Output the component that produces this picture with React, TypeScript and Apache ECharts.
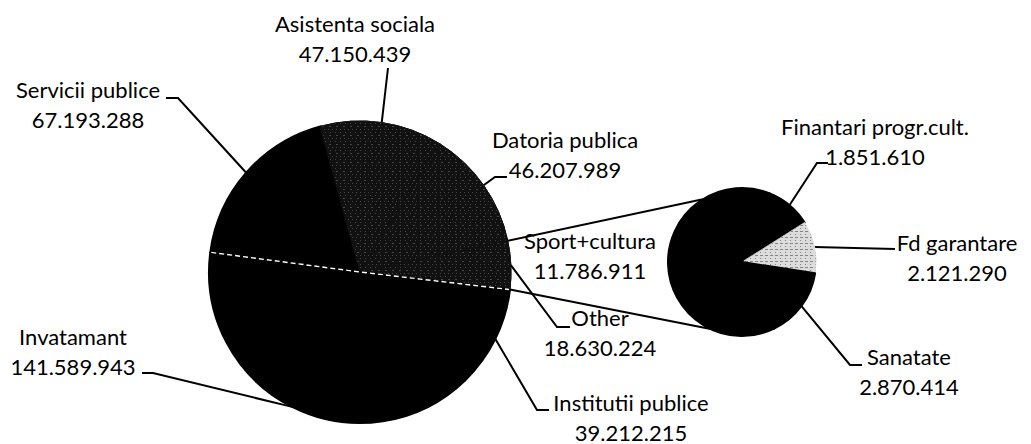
import React, { useEffect, useRef } from "react";
import * as echarts from "echarts";

// ---- data ----
const mainNames = [
  "Servicii publice",
  "Asistenta sociala",
  "Datoria publica",
  "Other",
  "Institutii publice",
  "Invatamant",
];
const mainValues = [67193288, 47150439, 46207989, 18630224, 39212215, 141589943];

const subNames = ["Finantari progr.cult.", "Fd garantare", "Sanatate", "Sport+cultura"];
const subValues = [1851610, 2121290, 2870414, 11786911];

// ---- layout (positions, not data) ----
const W = 1031;
const H = 444;
const MAIN_C = [360, 272];
const MAIN_R = 151;
const MAIN_START = 172.5;
const SUB_C = [742, 262];
const SUB_R = 74;
const SUB_START = 68;
const OTHER_INDEX = 3;
const SUB_TOP_DEG = 122;
const SUB_BOTTOM_DEG = 245;

type LP = { x: number; y: number; line: number[][] };
const mainLabelPos: Record<string, LP> = {
  "Servicii publice": { x: 88, y: 104, line: [[178, 98], [166, 98]] },
  "Asistenta sociala": { x: 355, y: 38, line: [[388, 68]] },
  "Datoria publica": { x: 565, y: 154, line: [[495, 177], [507, 177]] },
  Other: { x: 600, y: 332, line: [[557, 327], [570, 327]] },
  "Institutii publice": { x: 631, y: 417, line: [[537, 410], [549, 410]] },
  Invatamant: { x: 73, y: 351, line: [[153, 373], [142, 373]] },
};
const subLabelPos: Record<string, LP> = {
  "Finantari progr.cult.": { x: 875, y: 141, line: [[817, 163], [828, 163]] },
  "Fd garantare": { x: 957, y: 257, line: [[895, 249]] },
  Sanatate: { x: 909, y: 371, line: [[850, 365], [862, 365]] },
  "Sport+cultura": { x: 590, y: 255, line: [] },
};

const fmt = (v: number) => String(v).replace(/\B(?=(\d{3})+(?!\d))/g, ".");

const pt = (c: number[], r: number, deg: number) => {
  const a = (deg * Math.PI) / 180;
  return [c[0] + r * Math.cos(a), c[1] - r * Math.sin(a)];
};

const angles = (values: number[], start: number) => {
  const total = values.reduce((s, v) => s + v, 0);
  let cur = start;
  return values.map((v) => {
    const span = (v / total) * 360;
    const a = { start: cur, end: cur - span, mid: cur - span / 2 };
    cur -= span;
    return a;
  });
};

export default function App() {
  const ref = useRef<HTMLDivElement>(null);

  useEffect(() => {
    document.body.style.margin = "0";
    if (!ref.current) return;
    const chart = echarts.init(ref.current, undefined, { renderer: "svg" });

    const mainAng = angles(mainValues, MAIN_START);
    const subAng = angles(subValues, SUB_START);
    const other = mainAng[OTHER_INDEX];

    const textStyle = {
      fontFamily: "Lato, 'Open Sans', sans-serif",
      fontSize: 22,
      lineHeight: 30,
      color: "#000",
    };

    const speckle = {
      symbol: "rect",
      symbolSize: 1,
      color: "rgba(255,255,255,0.22)",
      dashArrayX: [
        [1, 4],
        [2, 5],
        [1, 3],
      ],
      dashArrayY: [1, 2],
      rotation: 0,
    };

    const solid = (c: string) => ({ color: c, borderColor: c, borderWidth: 2 });
    const textured = { color: "#111", borderColor: "#111", borderWidth: 1, decal: speckle };

    const mainColors: Record<string, any> = {
      "Servicii publice": solid("#000"),
      "Asistenta sociala": textured,
      "Datoria publica": textured,
      Other: textured,
      "Institutii publice": solid("#000"),
      Invatamant: solid("#000"),
    };
    const subColors: Record<string, any> = {
      "Finantari progr.cult.": solid("#000"),
      "Fd garantare": {
        color: "#dcdcdc",
        borderColor: "#dcdcdc",
        borderWidth: 0.5,
        decal: {
          symbol: "rect",
          symbolSize: 1,
          color: "rgba(0,0,0,0.4)",
          dashArrayX: [
            [3, 2],
            [1, 4],
          ],
          dashArrayY: [1, 2],
          rotation: 0,
        },
      },
      Sanatate: solid("#000"),
      "Sport+cultura": solid("#000"),
    };

    const layoutFor =
      (names: string[], pos: Record<string, LP>, ang: any[], c: number[], r: number) =>
      (params: any) => {
        const i = params.dataIndex;
        const p = pos[names[i]];
        const edge = pt(c, r, ang[i].mid);
        const res: any = { x: p.x, y: p.y, align: "center", verticalAlign: "middle" };
        if (p.line.length) res.labelLinePoints = [edge, ...p.line];
        return res;
      };

    const labelLine = { show: true, length: 10, length2: 10, lineStyle: { color: "#000", width: 2 } };

    const option: any = {
      animation: false,
      backgroundColor: "#fff",
      series: [
        {
          type: "pie",
          center: MAIN_C,
          radius: MAIN_R,
          startAngle: MAIN_START,
          clockwise: true,
          avoidLabelOverlap: false,
          silent: true,
          data: mainNames.map((n, i) => ({
            name: n,
            value: mainValues[i],
            itemStyle: mainColors[n],
          })),
          label: {
            show: true,
            formatter: (p: any) => `${p.name}\n${fmt(p.value)}`,
            ...textStyle,
          },
          labelLine,
          labelLayout: layoutFor(mainNames, mainLabelPos, mainAng, MAIN_C, MAIN_R),
        },
        {
          type: "pie",
          center: SUB_C,
          radius: SUB_R,
          startAngle: SUB_START,
          clockwise: true,
          avoidLabelOverlap: false,
          silent: true,
          data: subNames.map((n, i) => ({
            name: n,
            value: subValues[i],
            itemStyle: subColors[n],
            labelLine: { show: subLabelPos[n].line.length > 0 },
          })),
          label: {
            show: true,
            formatter: (p: any) => `${p.name}\n${fmt(p.value)}`,
            ...textStyle,
          },
          labelLine,
          labelLayout: layoutFor(subNames, subLabelPos, subAng, SUB_C, SUB_R),
        },
      ],
      graphic: {
        elements: [
          {
            type: "polyline",
            z: 100,
            silent: true,
            shape: { points: [pt(MAIN_C, MAIN_R - 1, MAIN_START), MAIN_C, pt(MAIN_C, MAIN_R - 1, other.end)] },
            style: { stroke: "#fff", lineWidth: 1.4, lineDash: [5, 3], fill: null },
          },
          {
            type: "line",
            z: 100,
            silent: true,
            shape: {
              x1: pt(MAIN_C, MAIN_R, other.start)[0],
              y1: pt(MAIN_C, MAIN_R, other.start)[1],
              x2: pt(SUB_C, SUB_R, SUB_TOP_DEG)[0],
              y2: pt(SUB_C, SUB_R, SUB_TOP_DEG)[1],
            },
            style: { stroke: "#000", lineWidth: 2 },
          },
          {
            type: "line",
            z: 100,
            silent: true,
            shape: {
              x1: pt(MAIN_C, MAIN_R, other.end)[0],
              y1: pt(MAIN_C, MAIN_R, other.end)[1],
              x2: pt(SUB_C, SUB_R, SUB_BOTTOM_DEG)[0],
              y2: pt(SUB_C, SUB_R, SUB_BOTTOM_DEG)[1],
            },
            style: { stroke: "#000", lineWidth: 2 },
          },
        ],
      },
    };

    chart.setOption(option);
    return () => chart.dispose();
  }, []);

  return <div ref={ref} style={{ width: W, height: H }} />;
}
